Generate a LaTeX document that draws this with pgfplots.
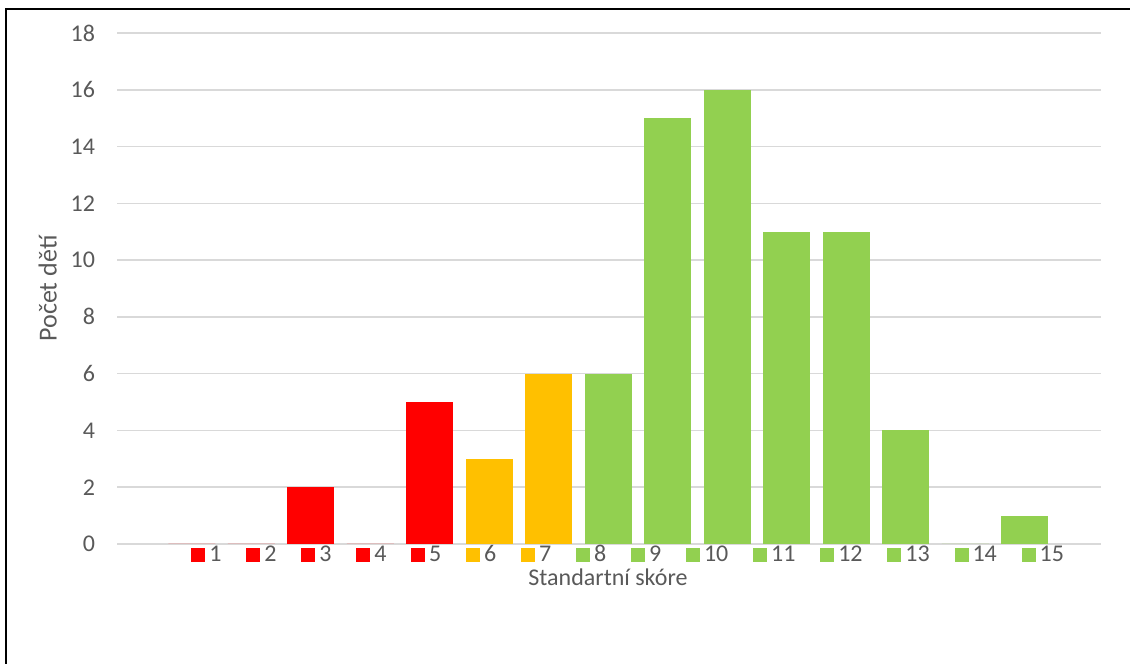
\documentclass[border=0pt]{standalone}
\usepackage{pgfplots}
\pgfplotsset{compat=1.18}
\usepackage{fontspec}
\setmainfont{Carlito}
\definecolor{txt}{HTML}{595959}
\definecolor{gridc}{HTML}{D9D9D9}
\definecolor{cred}{HTML}{FF0000}
\definecolor{corange}{HTML}{FFC000}
\definecolor{cgreen}{HTML}{92D050}
\begin{document}
\begin{tikzpicture}[x=1pt,y=1pt]
\useasboundingbox (0,0) rectangle (565,332);
\clip (0,0) rectangle (565,332);
\draw[line width=1.2pt, black] (3,-5) -- (3,327.5) -- (575,327.5);
\begin{axis}[
  at={(58.5pt,60pt)}, anchor=south west,
  width=492pt, height=255.5pt, scale only axis,
  xmin=-0.26, xmax=16.28, ymin=0, ymax=18,
  ytick={0,2,...,18}, xtick=\empty,
  ymajorgrids, grid style={gridc, line width=0.8pt},
  axis line style={draw=none}, tick style={draw=none},
  font=\fontsize{12}{14}\selectfont,
  tick label style={text=txt},
  /pgf/number format/assume math mode=true,
  yticklabel style={xshift=-7.5pt},
  ylabel={Počet dětí}, ylabel style={text=txt, font=\fontsize{13}{15}\selectfont},
  xlabel={Standartní skóre},
  xlabel style={text=txt, at={(axis description cs:0.499,-0.0646)}, anchor=center},
  legend columns=15,
  legend style={draw=none, fill=none, text=txt, font=\fontsize{12}{14}\selectfont,
    at={(0.0752,-0.0215)}, anchor=west, inner sep=0pt,
    /tikz/every even column/.append style={column sep=10.4pt}},
  legend image code/.code={\fill[#1,draw=none] (0pt,-3.5pt) rectangle (7pt,3.5pt);},
  every axis plot/.append style={ybar, bar width=0.79, bar shift=0pt, draw=none},
]
\addplot[fill=cred] coordinates {(1,0)};
\addplot[fill=cred] coordinates {(2,0)};
\addplot[fill=cred] coordinates {(3,2)};
\addplot[fill=cred] coordinates {(4,0)};
\addplot[fill=cred] coordinates {(5,5)};
\addplot[fill=corange] coordinates {(6,3)};
\addplot[fill=corange] coordinates {(7,6)};
\addplot[fill=cgreen] coordinates {(8,6)};
\addplot[fill=cgreen] coordinates {(9,15)};
\addplot[fill=cgreen] coordinates {(10,16)};
\addplot[fill=cgreen] coordinates {(11,11)};
\addplot[fill=cgreen] coordinates {(12,11)};
\addplot[fill=cgreen] coordinates {(13,4)};
\addplot[fill=cgreen] coordinates {(14,0)};
\addplot[fill=cgreen] coordinates {(15,1)};
\legend{1,2,3,4,5,6,7,8,9,10,11,12,13,14,15}
\end{axis}
\end{tikzpicture}
\end{document}
